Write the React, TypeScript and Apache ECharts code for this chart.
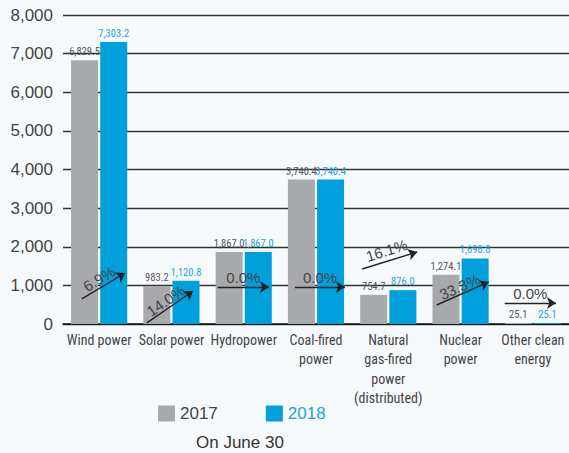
import React, { useEffect, useRef } from "react";
import * as echarts from "echarts";

const categories = [
  "Wind power",
  "Solar power",
  "Hydropower",
  "Coal-fired\npower",
  "Natural\ngas-fired\npower\n(distributed)",
  "Nuclear\npower",
  "Other clean\nenergy",
];
const values2017 = [6829.5, 983.2, 1867.0, 3740.4, 754.7, 1274.1, 25.1];
const values2018 = [7303.2, 1120.8, 1867.0, 3740.4, 876.0, 1698.8, 25.1];
const yTicks = [0, 1000, 2000, 3000, 4000, 5000, 6000, 7000, 8000];
const growthLabels = ["6.9%", "14.0%", "0.0%", "0.0%", "16.1%", "33.3%", "0.0%"];
// arrow start/end in (category position, value) space
const arrowStart: [number, number][] = [
  [-0.24, 650],
  [0.66, 30],
  [1.64, 958],
  [2.71, 958],
  [3.64, 1425],
  [4.67, 492],
  [5.61, 544],
];
const arrowEnd: [number, number][] = [
  [0.36, 1320],
  [1.3, 855],
  [2.35, 958],
  [3.4, 958],
  [4.4, 1865],
  [5.39, 1088],
  [6.32, 544],
];
const labelDistances = [1, 0, 2, 2, 3, 0, 2];

const GRAY = "#a7a9ac";
const BLUE = "#00a0dc";
const BLUE_TEXT = "#1ea3e0";
const NARROW = "Roboto Condensed";
const SANS = "Liberation Sans";

export default function App() {
  const ref = useRef<HTMLDivElement>(null);
  useEffect(() => {
    document.body.style.margin = "0";
    if (!ref.current) return;
    const chart = echarts.init(ref.current, undefined, { renderer: "svg" });
    const fmt = (v: number) =>
      v.toLocaleString("en-US", { minimumFractionDigits: 1, maximumFractionDigits: 1 });
    chart.setOption({
      animation: false,
      backgroundColor: "#f7fafd",
      title: {
        text: "On June 30",
        left: 196,
        top: 434,
        padding: 0,
        textStyle: {
          fontFamily: SANS,
          fontSize: 17,
          lineHeight: 17,
          fontWeight: "normal",
          color: "#333",
        },
      },
      legend: {
        left: 158,
        top: 405,
        padding: 0,
        itemWidth: 17,
        itemHeight: 16,
        itemGap: 48,
        icon: "rect",
        data: [
          { name: "2017", textStyle: { color: "#444" } },
          { name: "2018", textStyle: { color: BLUE_TEXT } },
        ],
        textStyle: { fontFamily: SANS, fontSize: 17 },
      },
      grid: { left: 63, right: 0, top: 15, bottom: 129, containLabel: false },
      xAxis: [
        {
          type: "category",
          data: categories,
          axisLine: { show: true, lineStyle: { color: "#111", width: 1.5 } },
          axisTick: { show: false },
          axisLabel: {
            interval: 0,
            margin: 6,
            color: "#444",
            fontFamily: NARROW,
            fontSize: 14,
            lineHeight: 19.5,
          },
        },
        { type: "value", min: -0.5, max: 6.5, show: false },
      ],
      yAxis: {
        type: "value",
        min: yTicks[0],
        max: yTicks[yTicks.length - 1],
        interval: 1000,
        axisLine: { show: false },
        axisTick: { show: false },
        splitLine: { lineStyle: { color: "#333", width: 1.3 } },
        axisLabel: {
          margin: 10,
          color: "#444",
          fontFamily: SANS,
          fontSize: 17,
          formatter: (v: number) => v.toLocaleString("en-US"),
        },
      },
      series: [
        {
          name: "2017",
          type: "bar",
          data: values2017,
          barWidth: 27,
          barGap: "8%",
          itemStyle: { color: GRAY },
          label: {
            show: true,
            position: "top",
            distance: 3,
            color: "#555",
            fontFamily: NARROW,
            fontSize: 10.5,
            formatter: (p: any) => fmt(p.value),
          },
        },
        {
          name: "2018",
          type: "bar",
          data: values2018,
          barWidth: 27,
          itemStyle: { color: BLUE },
          label: {
            show: true,
            position: "top",
            distance: 3,
            color: BLUE_TEXT,
            fontFamily: NARROW,
            fontSize: 10.5,
            formatter: (p: any) => fmt(p.value),
          },
        },
        {
          type: "lines",
          coordinateSystem: "cartesian2d",
          xAxisIndex: 1,
          yAxisIndex: 0,
          z: 10,
          silent: true,
          symbol: ["none", "arrow"],
          symbolSize: 9,
          lineStyle: { color: "#222", width: 1.4, opacity: 1 },
          label: {
            show: true,
            position: "middle",
            color: "#444",
            fontFamily: SANS,
            fontSize: 15,
          },
          data: growthLabels.map((t, i) => ({
            coords: [arrowStart[i], arrowEnd[i]],
            label: { formatter: t, distance: labelDistances[i] },
          })),
        },
      ],
    });
    return () => chart.dispose();
  }, []);
  return <div ref={ref} style={{ width: 569, height: 453 }} />;
}
